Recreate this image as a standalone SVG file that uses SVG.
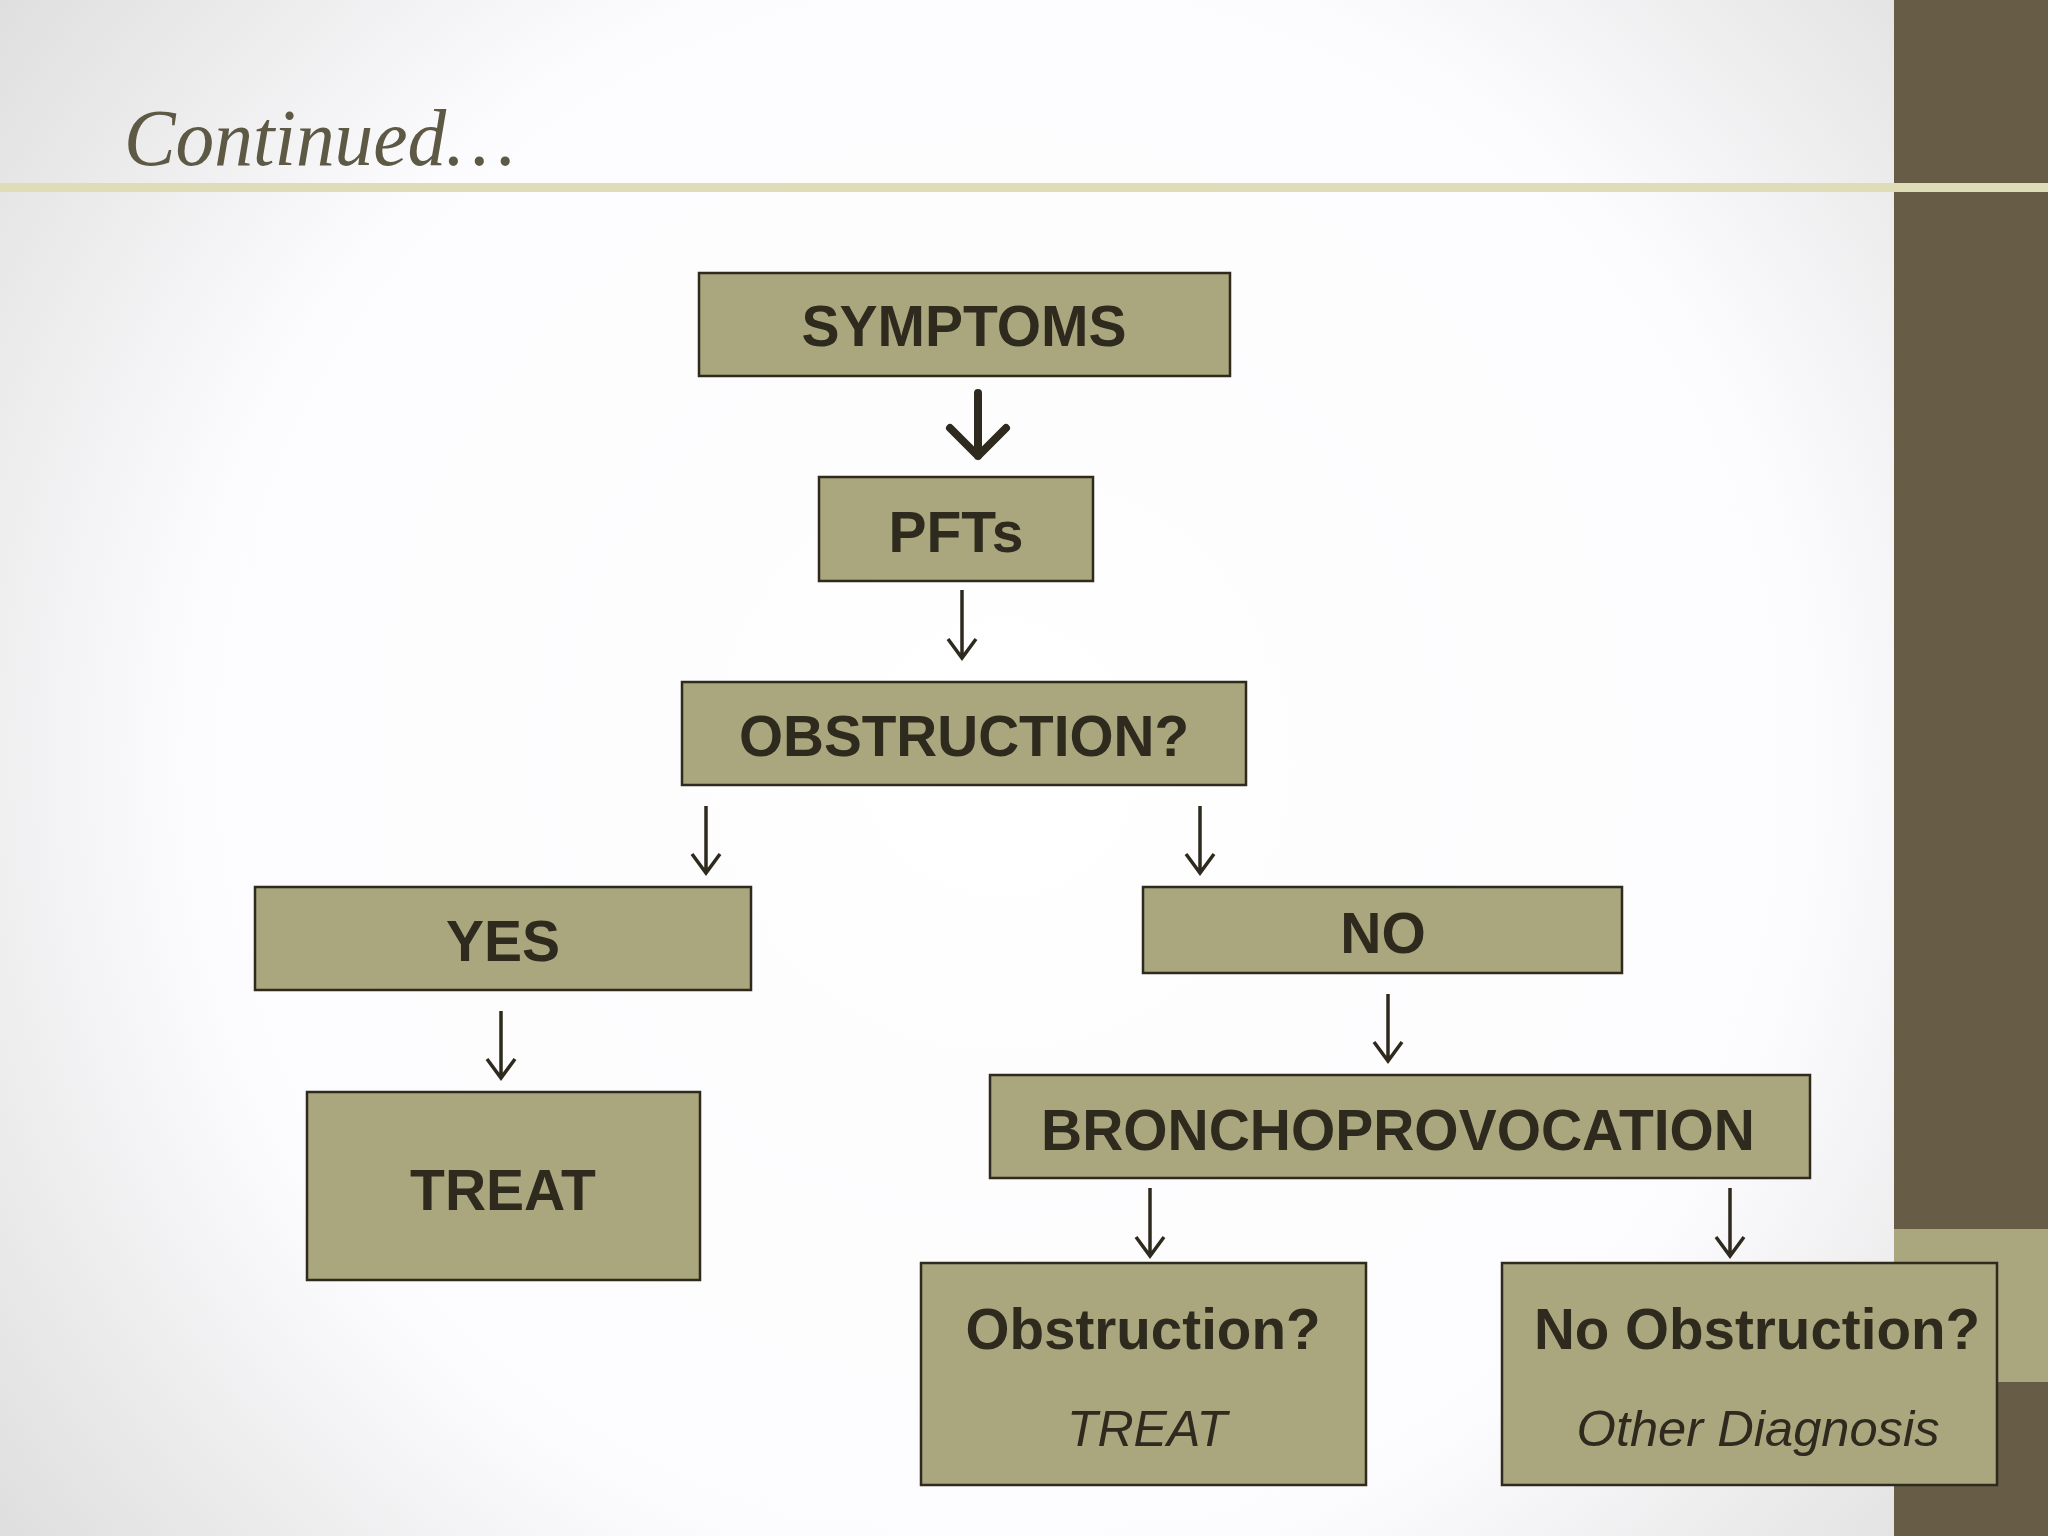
<svg xmlns="http://www.w3.org/2000/svg" width="2048" height="1536" viewBox="0 0 2048 1536">
<defs>
<radialGradient id="bg" cx="1000" cy="760" r="1350" gradientUnits="userSpaceOnUse">
<stop offset="0" stop-color="#ffffff"/>
<stop offset="0.6" stop-color="#fcfbfd"/>
<stop offset="1" stop-color="#d9d9d9"/>
</radialGradient>
<style>
.box{fill:#aaa67e;stroke:#2e2a1e;stroke-width:2.5}
.lbl{font-family:"Liberation Sans",Arial,sans-serif;font-weight:bold;font-size:57px;fill:#2e2a1e;text-anchor:middle}
.sub{font-family:"Liberation Sans",Arial,sans-serif;font-style:italic;font-size:50px;fill:#2e2a1e;text-anchor:middle}
.arr{fill:none;stroke:#2e2a1e;stroke-width:3.5;stroke-linejoin:miter}
.arrb{fill:none;stroke:#2e2a1e;stroke-width:8;stroke-linecap:round;stroke-linejoin:round}
</style>
</defs>
<rect x="0" y="0" width="2048" height="1536" fill="url(#bg)"/>
<rect x="1894" y="0" width="154" height="1536" fill="#675d46"/>
<rect x="1894" y="1229" width="154" height="153" fill="#aaa67e"/>
<rect x="0" y="183" width="2048" height="9" fill="#dfdcb8"/>
<text x="124" y="165" font-family="'Liberation Serif',serif" font-style="italic" font-size="80" fill="#5e5944" textLength="391" lengthAdjust="spacingAndGlyphs">Continued…</text>

<g id="connectors">
<path class="arrb" d="M978 393 V456 M950 428 L978 456 L1006 428"/>
<path class="arr" d="M962 590 V658 M948 639 L962 658 L976 639"/>
<path class="arr" d="M706 806 V873 M692 854 L706 873 L720 854"/>
<path class="arr" d="M1200 806 V873 M1186 854 L1200 873 L1214 854"/>
<path class="arr" d="M501 1011 V1078 M487 1059 L501 1078 L515 1059"/>
<path class="arr" d="M1388 994 V1061 M1374 1042 L1388 1061 L1402 1042"/>
<path class="arr" d="M1150 1188 V1256 M1136 1237 L1150 1256 L1164 1237"/>
<path class="arr" d="M1730 1188 V1256 M1716 1237 L1730 1256 L1744 1237"/>
</g>

<g id="symptoms">
<rect class="box" x="699" y="273" width="531" height="103"/>
<text class="lbl" x="964" y="346">SYMPTOMS</text>
</g>
<g id="pfts">
<rect class="box" x="819" y="477" width="274" height="104"/>
<text class="lbl" x="956" y="552">PFTs</text>
</g>
<g id="obstruction">
<rect class="box" x="682" y="682" width="564" height="103"/>
<text class="lbl" x="964" y="756" textLength="450" lengthAdjust="spacingAndGlyphs">OBSTRUCTION?</text>
</g>
<g id="yes">
<rect class="box" x="255" y="887" width="496" height="103"/>
<text class="lbl" x="503" y="961">YES</text>
</g>
<g id="no">
<rect class="box" x="1143" y="887" width="479" height="86"/>
<text class="lbl" x="1383" y="953">NO</text>
</g>
<g id="treat">
<rect class="box" x="307" y="1092" width="393" height="188"/>
<text class="lbl" x="503" y="1210">TREAT</text>
</g>
<g id="bronchoprovocation">
<rect class="box" x="990" y="1075" width="820" height="103"/>
<text class="lbl" x="1398" y="1150" textLength="714" lengthAdjust="spacingAndGlyphs">BRONCHOPROVOCATION</text>
</g>
<g id="obstruction-yes">
<rect class="box" x="921" y="1263" width="445" height="222"/>
<text class="lbl" x="1143" y="1349" textLength="355" lengthAdjust="spacingAndGlyphs">Obstruction?</text>
<text class="sub" x="1147" y="1446">TREAT</text>
</g>
<g id="no-obstruction">
<rect class="box" x="1502" y="1263" width="495" height="222"/>
<text class="lbl" x="1757" y="1349" textLength="446" lengthAdjust="spacingAndGlyphs">No Obstruction?</text>
<text class="sub" x="1758" y="1446" textLength="363" lengthAdjust="spacingAndGlyphs">Other Diagnosis</text>
</g>
</svg>
